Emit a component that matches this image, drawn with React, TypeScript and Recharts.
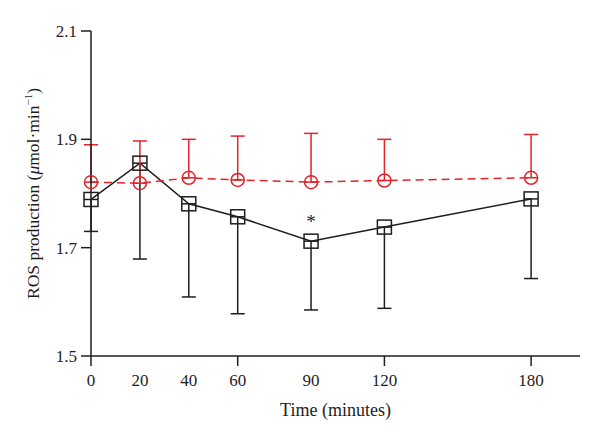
import React from 'react';
import { ComposedChart, Line, XAxis, YAxis, ErrorBar, LabelList } from 'recharts';

// time points (minutes)
const times = [0, 20, 40, 60, 90, 120, 180];
const majorTicks = [0, 60, 120, 180];
const yTicks = [1.5, 1.7, 1.9, 2.1];

// black squares, error shown downward
const squareMean = [1.789, 1.856, 1.781, 1.757, 1.712, 1.738, 1.79];
const squareSD = [0.059, 0.177, 0.172, 0.179, 0.127, 0.15, 0.147];

// red circles, error shown upward
const circleMean = [1.821, 1.819, 1.829, 1.825, 1.821, 1.824, 1.829];
const circleSD = [0.069, 0.078, 0.071, 0.081, 0.09, 0.076, 0.08];

// points marked with an asterisk
const significant = [90];

const BLACK = '#1e1e1e';
const RED = '#e3232a';
const FONT = '"Liberation Serif", "Times New Roman", serif';

const rows = times.map((t, i) => ({
  t,
  square: squareMean[i],
  squareErr: [squareSD[i], 0],
  circle: circleMean[i],
  circleErr: [0, circleSD[i]],
}));

const SquareDot = (props: any) => {
  const { cx, cy } = props;
  if (cx == null || cy == null) return null;
  return <rect x={cx - 7} y={cy - 7} width={14} height={14} fill="none" stroke={BLACK} strokeWidth={1.5} />;
};

const CircleDot = (props: any) => {
  const { cx, cy } = props;
  if (cx == null || cy == null) return null;
  return <circle cx={cx} cy={cy} r={6.5} fill="none" stroke={RED} strokeWidth={1.5} />;
};

const XTick = (props: any) => {
  const { x, y, payload } = props;
  const major = majorTicks.includes(payload.value);
  return (
    <g>
      {major && <line x1={x} x2={x} y1={y} y2={y + 10} stroke={BLACK} strokeWidth={1.5} />}
      <text x={x} y={y + 30} textAnchor="middle" fontSize={17} fontFamily={FONT} fill={BLACK} stroke="none">
        {payload.value}
      </text>
    </g>
  );
};

const YTitle = (props: any) => {
  const vb = props.viewBox || { x: 0, y: 31, width: 91, height: 325 };
  const cx = 39;
  const cy = vb.y + vb.height / 2;
  return (
    <text
      x={cx}
      y={cy}
      textAnchor="middle"
      transform={`rotate(-90, ${cx}, ${cy})`}
      fontSize={17.5}
      fontFamily={FONT}
      fill={BLACK}
      stroke="none"
    >
      ROS production (<tspan fontStyle="italic">μ</tspan>mol·min
      <tspan dy={-7} fontSize={11}>−1</tspan>
      <tspan dy={7}>)</tspan>
    </text>
  );
};

const Star = (props: any) => {
  const { x, y, index } = props;
  if (!significant.includes(times[index])) return null;
  return (
    <text x={x} y={y - 13} textAnchor="middle" fontSize={19} fontFamily={FONT} fill={BLACK} stroke="none">
      *
    </text>
  );
};

export default function App() {
  return (
    <div style={{ position: 'absolute', left: 0, top: 0, width: 600, height: 440, background: '#fff' }}>
      <ComposedChart width={600} height={440} data={rows} margin={{ top: 31, right: 20, bottom: 20, left: 0 }}>
        <XAxis
          dataKey="t"
          type="number"
          domain={[0, 200]}
          ticks={times}
          tick={<XTick />}
          tickLine={false}
          tickSize={0}
          tickMargin={0}
          height={64}
          axisLine={{ stroke: BLACK, strokeWidth: 1.5 }}
        />
        <YAxis
          type="number"
          domain={[1.5, 2.1]}
          ticks={yTicks}
          width={91}
          tickSize={10}
          tickMargin={4}
          tickFormatter={(v: number) => v.toFixed(1)}
          tick={{ fontSize: 17, fontFamily: FONT, fill: BLACK }}
          tickLine={{ stroke: BLACK, strokeWidth: 1.5 }}
          axisLine={{ stroke: BLACK, strokeWidth: 1.5 }}
          label={<YTitle />}
        />
        <Line
          dataKey="square"
          type="linear"
          stroke={BLACK}
          strokeWidth={1.5}
          dot={<SquareDot />}
          activeDot={false}
          isAnimationActive={false}
        >
          <ErrorBar dataKey="squareErr" direction="y" width={7} stroke={BLACK} strokeWidth={1.5} isAnimationActive={false} />
          <LabelList dataKey="square" content={<Star />} />
        </Line>
        <Line
          dataKey="circle"
          type="linear"
          stroke={RED}
          strokeWidth={1.5}
          strokeDasharray="8 5"
          dot={<CircleDot />}
          activeDot={false}
          isAnimationActive={false}
        >
          <ErrorBar dataKey="circleErr" direction="y" width={7} stroke={RED} strokeWidth={1.5} isAnimationActive={false} />
        </Line>
      </ComposedChart>
      <div
        style={{
          position: 'absolute',
          left: 91,
          width: 489,
          top: 398,
          textAlign: 'center',
          fontFamily: FONT,
          fontSize: 18,
          lineHeight: '24px',
          color: BLACK,
        }}
      >
        Time (minutes)
      </div>
    </div>
  );
}
